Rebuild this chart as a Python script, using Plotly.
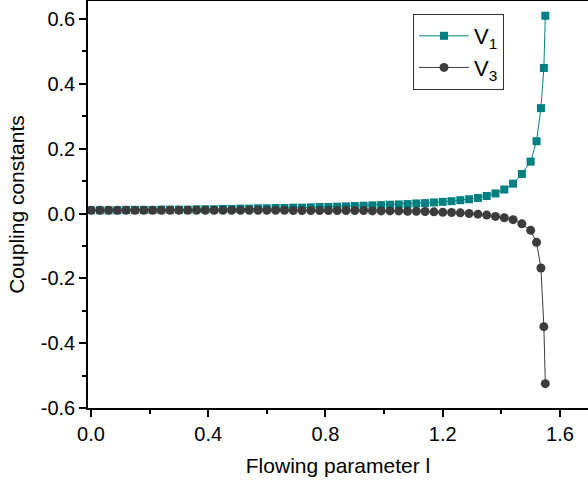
import plotly.graph_objects as go

flow_l = [0.00, 0.03, 0.06, 0.09, 0.12, 0.15, 0.18, 0.21, 0.24, 0.27,
          0.30, 0.33, 0.36, 0.39, 0.42, 0.45, 0.48, 0.51, 0.54, 0.57,
          0.60, 0.63, 0.66, 0.69, 0.72, 0.75, 0.78, 0.81, 0.84, 0.87,
          0.90, 0.93, 0.96, 0.99, 1.02, 1.05, 1.08, 1.11, 1.14, 1.17,
          1.20, 1.23, 1.26, 1.29, 1.32, 1.35, 1.38, 1.41, 1.44, 1.47,
          1.50, 1.52, 1.535, 1.545, 1.55]

v1 = [0.010, 0.010, 0.010, 0.010, 0.011, 0.011, 0.011, 0.011, 0.012, 0.012,
      0.012, 0.012, 0.013, 0.013, 0.013, 0.014, 0.014, 0.015, 0.015, 0.016,
      0.016, 0.017, 0.017, 0.018, 0.018, 0.019, 0.020, 0.020, 0.021, 0.022,
      0.023, 0.024, 0.025, 0.026, 0.027, 0.028, 0.029, 0.031, 0.032, 0.034,
      0.036, 0.038, 0.041, 0.044, 0.048, 0.054, 0.062, 0.074, 0.092, 0.122,
      0.160, 0.223, 0.325, 0.449, 0.610]

v3 = [0.010, 0.010, 0.010, 0.010, 0.010, 0.010, 0.010, 0.010, 0.010, 0.010,
      0.010, 0.010, 0.010, 0.010, 0.010, 0.010, 0.010, 0.010, 0.010, 0.010,
      0.010, 0.010, 0.010, 0.009, 0.009, 0.009, 0.009, 0.009, 0.009, 0.009,
      0.009, 0.009, 0.008, 0.008, 0.008, 0.008, 0.007, 0.007, 0.006, 0.005,
      0.004, 0.003, 0.002, 0.000, -0.002, -0.005, -0.009, -0.013, -0.019, -0.032,
      -0.052, -0.089, -0.168, -0.349, -0.525]

x_ticks = [0.0, 0.4, 0.8, 1.2, 1.6]
y_ticks = [-0.6, -0.4, -0.2, 0.0, 0.2, 0.4, 0.6]

FONT = "Liberation Sans, Arial, sans-serif"

fig = go.Figure()
fig.add_trace(go.Scatter(
    x=flow_l, y=v1, mode="lines+markers", name="V<sub>1</sub>",
    line=dict(color="#008080", width=1),
    marker=dict(symbol="square", size=8, color="#008080"),
))
fig.add_trace(go.Scatter(
    x=flow_l, y=v3, mode="lines+markers", name="V<sub>3</sub>",
    line=dict(color="#3c3c3c", width=1),
    marker=dict(symbol="circle", size=9, color="#3c3c3c"),
))

fig.update_layout(
    width=588, height=485,
    margin=dict(l=88, r=0, t=1, b=77, autoexpand=False),
    paper_bgcolor="white", plot_bgcolor="white",
    font=dict(family=FONT, size=20, color="black"),
    showlegend=True,
    legend=dict(
        x=0.65, y=0.968, xanchor="left", yanchor="top",
        bordercolor="#333333", borderwidth=1, bgcolor="white",
        font=dict(family=FONT, size=22, color="black"),
        itemwidth=50, tracegroupgap=0,
    ),
    xaxis=dict(
        range=[-0.0102, 1.6956], automargin=False,
        tickmode="array", tickvals=x_ticks, ticktext=[f"{v:.1f}" for v in x_ticks],
        ticks="outside", ticklen=7, tickwidth=1.5, tickcolor="black",
        minor=dict(dtick=0.2, ticks="outside", ticklen=4, tickwidth=1.5, tickcolor="black"),
        showline=True, linecolor="black", linewidth=1.5, mirror=True,
        showgrid=False, zeroline=False,
        tickfont=dict(size=20),
        title=dict(text="Flowing parameter l", font=dict(size=21), standoff=15),
    ),
    yaxis=dict(
        range=[-0.6, 0.6555], automargin=False,
        tickmode="array", tickvals=y_ticks, ticktext=[f"{v:.1f}" for v in y_ticks],
        ticks="outside", ticklen=7, tickwidth=1.5, tickcolor="black",
        minor=dict(dtick=0.1, ticks="outside", ticklen=4, tickwidth=1.5, tickcolor="black"),
        showline=True, linecolor="black", linewidth=1.5, mirror=False,
        showgrid=False, zeroline=False,
        tickfont=dict(size=20),
        title=dict(text="Coupling constants", font=dict(size=21), standoff=10),
    ),
)

fig.write_html("out.html", config={"displayModeBar": False},
               post_script="document.body.style.margin='0px';")
